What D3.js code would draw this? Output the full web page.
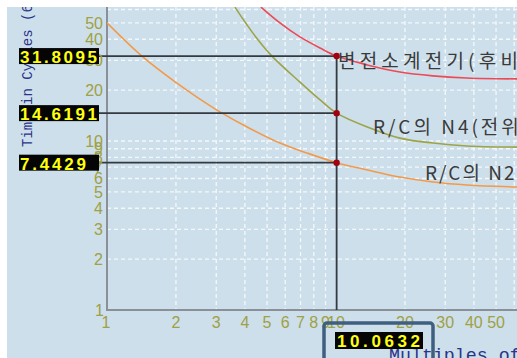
<!DOCTYPE html>
<html><head><meta charset="utf-8">
<script src="https://cdn.jsdelivr.net/npm/d3@7"></script>
<style>body{margin:0;background:#fff}svg{display:block}</style>
</head><body><svg id="c" width="517" height="358"></svg>
<script>
// ---- data ----
const xTickLabels = [1,2,3,4,5,6,7,8,9,10,20,30,40,50];
const yTickLabels = [1,2,3,4,5,6,7,8,9,10,20,30,40,50];
const xGrid = [2,3,4,5,6,7,8,9,20,30,40,50,60];
const yGrid = [2,3,4,5,6,7,8,9,10,20,30,40,50,60];

const redM = [4.7,5.69,6.96,8.52,10.0632,13.7,19,26.5,37.3,62];
const redV = [62,50,41.3,35.5,31.8095,28.2,25.6,24.3,23.6,23.3];
const oliveM = [3.62,4.09,4.57,5.25,6.96,8.52,10.0632,13.7,19,26.5,37.3,62];
const oliveV = [62,48.6,39.6,31.8,22.3,17.5,14.6191,12.1,10.4,9.73,9.35,9.2];
const orangeM = [1,1.42,2.02,2.47,3.18,4.09,5.69,7.47,10.0632,13.7,19,26.5,37.3,62];
const orangeV = [50,31.8,22,18.2,14.62,12.1,9.73,8.49,7.4429,6.74,6.12,5.72,5.49,5.34];

const seriesNames = ["변전소계전기(후비", "R/C의 N4(전위)", "R/C의 N2"];
const pickM = 10.0632;
const pickV = [31.8095, 14.6191, 7.4429];
const pickLabels = ["31.8095", "14.6191", "7.4429"];
const pickMLabel = "10.0632";
const yTitle = "Time in Cycles (60Hz)";
const xTitle = "Multiples of Pickup";

(function(){
const svg = d3.select("#c");
const x = d3.scaleLog().domain([1,100]).range([107, 107+2*229]);
const y = d3.scaleLog().domain([1,100]).range([310, 310-2*169]);
const L = 107, B = 310, R = 517, T = 0;

svg.append("rect").attr("width",517).attr("height",358).attr("fill","#cddfeb");

svg.append("defs").append("clipPath").attr("id","pc")
  .append("rect").attr("x",L).attr("y",T).attr("width",R-L).attr("height",B-T);

const g = svg.append("g");
g.selectAll(".gx").data(xGrid).join("line")
  .attr("x1",d=>x(d)).attr("x2",d=>x(d)).attr("y1",T).attr("y2",B)
  .attr("stroke","#f4f8fb").attr("stroke-width",1.3).attr("stroke-dasharray","4,3");
g.selectAll(".gy").data(yGrid).join("line")
  .attr("x1",L).attr("x2",R).attr("y1",d=>y(d)).attr("y2",d=>y(d))
  .attr("stroke","#f4f8fb").attr("stroke-width",1.3).attr("stroke-dasharray","4,3");

g.append("line").attr("x1",L).attr("x2",L).attr("y1",T).attr("y2",B+1)
  .attr("stroke","#8a9098").attr("stroke-width",2);
g.append("line").attr("x1",L).attr("x2",R).attr("y1",B).attr("y2",B)
  .attr("stroke","#8a9098").attr("stroke-width",2);

const line = d3.line().x(d=>x(d[0])).y(d=>y(d[1])).curve(d3.curveCatmullRom.alpha(0.5));
const series = [
  {m:redM, v:redV, c:"#ec4a55"},
  {m:oliveM, v:oliveV, c:"#9ca447"},
  {m:orangeM, v:orangeV, c:"#f29a4a"}
];
const cg = svg.append("g").attr("clip-path","url(#pc)");
series.forEach(s=>{
  cg.append("path").datum(s.m.map((m,i)=>[m,s.v[i]]))
    .attr("d",line).attr("fill","none").attr("stroke",s.c).attr("stroke-width",1.6);
});

pickV.forEach(v=>{
  svg.append("line").attr("x1",99).attr("x2",x(pickM)).attr("y1",y(v)).attr("y2",y(v))
    .attr("stroke","#333a40").attr("stroke-width",1.8);
});
cg.append("line").attr("x1",x(pickM)).attr("x2",x(pickM)).attr("y1",y(d3.max(pickV))).attr("y2",B)
  .attr("stroke","#333a40").attr("stroke-width",1.8);
pickV.forEach(v=>{
  svg.append("circle").attr("cx",x(pickM)).attr("cy",y(v)).attr("r",3.2).attr("fill","#a00010");
});

const labPos = [[338,68,4.2],[373,134,3],[425,180,2]];
seriesNames.forEach((t,i)=>{
  svg.append("text").attr("x",labPos[i][0]).attr("y",labPos[i][1]).text(t)
    .attr("font-family","'Noto Sans CJK KR', sans-serif").attr("font-size",19)
    .attr("letter-spacing",labPos[i][2]).attr("fill","#3a3a3a");
});

const tickFont = "'Liberation Sans', Arial, sans-serif";
svg.selectAll(".xt").data(xTickLabels).join("text")
  .attr("x",d=>d===1?106:x(d)).attr("y",328).attr("text-anchor","middle")
  .attr("font-family",tickFont).attr("font-size",16).attr("fill","#a0a044").text(d=>d);
svg.selectAll(".yt").data(yTickLabels).join("text")
  .attr("x",d=>d===1?104:103).attr("y",d=>y(d)).attr("dy","0.36em").attr("text-anchor","end")
  .attr("font-family",tickFont).attr("font-size",16).attr("fill","#a0a044").text(d=>d);

svg.append("text").attr("transform","translate(32,147) rotate(-90)").text(yTitle)
  .attr("font-family","'Liberation Mono', monospace").attr("font-size",14).attr("fill","#2b3489");
svg.append("text").attr("x",389).attr("y",361).text(xTitle)
  .attr("font-family","'Liberation Mono', monospace").attr("font-size",18.3).attr("fill","#2b3489");

pickV.forEach((v,i)=>{
  const yy = y(v);
  svg.append("rect").attr("x",19).attr("y",yy-8).attr("width",80).attr("height",16).attr("fill","#050505");
  svg.append("text").attr("x",20).attr("y",yy+7).text(pickLabels[i])
    .attr("font-family","'Liberation Sans', Arial, sans-serif").attr("font-weight","bold")
    .attr("font-size",17).attr("fill","#ffff10")
    .attr("textLength", pickLabels[i].length*11).attr("lengthAdjust","spacing");
});
svg.append("rect").attr("x",324).attr("y",323).attr("width",109).attr("height",45).attr("rx",3)
  .attr("fill","none").attr("stroke","#3f5f80").attr("stroke-width",3.5);
svg.append("rect").attr("x",335).attr("y",332).attr("width",88).attr("height",17).attr("fill","#050505");
svg.append("text").attr("x",337).attr("y",347).text(pickMLabel)
  .attr("font-family","'Liberation Sans', Arial, sans-serif").attr("font-weight","bold")
  .attr("font-size",17).attr("fill","#ffff10")
  .attr("textLength",83).attr("lengthAdjust","spacing");

svg.append("rect").attr("x",0).attr("y",0).attr("width",517).attr("height",7).attr("fill","#fff");
svg.append("rect").attr("x",0).attr("y",0).attr("width",7).attr("height",358).attr("fill","#fff");
})();
</script></body></html>
